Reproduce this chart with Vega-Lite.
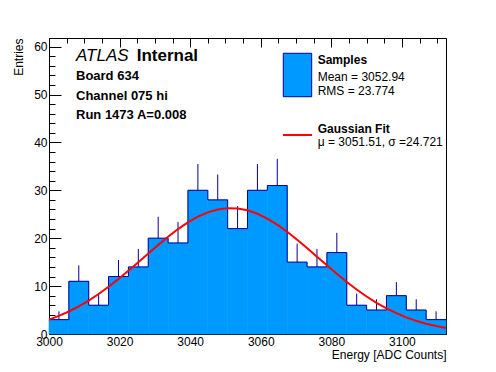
{
  "$schema": "https://vega.github.io/schema/vega-lite/v6.json",
  "width": 397,
  "height": 296,
  "autosize": "none",
  "padding": {"left": 49, "top": 38, "right": 50, "bottom": 38},
  "background": "white",
  "config": {
    "view": {"stroke": "black", "strokeWidth": 1},
    "font": "Liberation Sans",
    "axis": {
      "domainColor": "black", "domainWidth": 1,
      "gridColor": "black", "gridWidth": 1, "gridOpacity": 1, "gridCap": "butt",
      "labelColor": "black", "titleColor": "black", "zindex": 1,
      "labelFont": "Liberation Sans", "titleFont": "Liberation Sans",
      "labelFontSize": 12, "titleFontSize": 12, "titleFontWeight": "normal"
    }
  },
  "resolve": {"axis": {"x": "independent", "y": "independent"}},
  "datasets": {
    "hist": [
      {"x0": 3000, "x1": 3005.625, "xc": 3002.8125, "n": 3, "hi": 4.73},
      {"x0": 3005.625, "x1": 3011.25, "xc": 3008.4375, "n": 11, "hi": 14.32},
      {"x0": 3011.25, "x1": 3016.875, "xc": 3014.0625, "n": 6, "hi": 8.45},
      {"x0": 3016.875, "x1": 3022.5, "xc": 3019.6875, "n": 12, "hi": 15.46},
      {"x0": 3022.5, "x1": 3028.125, "xc": 3025.3125, "n": 14, "hi": 17.74},
      {"x0": 3028.125, "x1": 3033.75, "xc": 3030.9375, "n": 20, "hi": 24.47},
      {"x0": 3033.75, "x1": 3039.375, "xc": 3036.5625, "n": 19, "hi": 23.36},
      {"x0": 3039.375, "x1": 3045, "xc": 3042.1875, "n": 30, "hi": 35.48},
      {"x0": 3045, "x1": 3050.625, "xc": 3047.8125, "n": 28, "hi": 33.29},
      {"x0": 3050.625, "x1": 3056.25, "xc": 3053.4375, "n": 22, "hi": 26.69},
      {"x0": 3056.25, "x1": 3061.875, "xc": 3059.0625, "n": 30, "hi": 35.48},
      {"x0": 3061.875, "x1": 3067.5, "xc": 3064.6875, "n": 31, "hi": 36.57},
      {"x0": 3067.5, "x1": 3073.125, "xc": 3070.3125, "n": 15, "hi": 18.87},
      {"x0": 3073.125, "x1": 3078.75, "xc": 3075.9375, "n": 14, "hi": 17.74},
      {"x0": 3078.75, "x1": 3084.375, "xc": 3081.5625, "n": 17, "hi": 21.12},
      {"x0": 3084.375, "x1": 3090, "xc": 3087.1875, "n": 6, "hi": 8.45},
      {"x0": 3090, "x1": 3095.625, "xc": 3092.8125, "n": 5, "hi": 7.24},
      {"x0": 3095.625, "x1": 3101.25, "xc": 3098.4375, "n": 8, "hi": 10.83},
      {"x0": 3101.25, "x1": 3106.875, "xc": 3104.0625, "n": 5, "hi": 7.24},
      {"x0": 3106.875, "x1": 3112.5, "xc": 3109.6875, "n": 3, "hi": 4.73}
    ],
    "outline": [
      {"x": 3000, "n": 3}, {"x": 3005.625, "n": 11}, {"x": 3011.25, "n": 6}, {"x": 3016.875, "n": 12},
      {"x": 3022.5, "n": 14}, {"x": 3028.125, "n": 20}, {"x": 3033.75, "n": 19}, {"x": 3039.375, "n": 30},
      {"x": 3045, "n": 28}, {"x": 3050.625, "n": 22}, {"x": 3056.25, "n": 30}, {"x": 3061.875, "n": 31},
      {"x": 3067.5, "n": 15}, {"x": 3073.125, "n": 14}, {"x": 3078.75, "n": 17}, {"x": 3084.375, "n": 6},
      {"x": 3090, "n": 5}, {"x": 3095.625, "n": 8}, {"x": 3101.25, "n": 5}, {"x": 3106.875, "n": 3},
      {"x": 3112.5, "n": 3}
    ],
    "fit": [
      {"x": 3000, "f": 3.00}, {"x": 3002.8125, "f": 3.78}, {"x": 3005.625, "f": 4.70}, {"x": 3008.4375, "f": 5.76},
      {"x": 3011.25, "f": 6.98}, {"x": 3014.0625, "f": 8.35}, {"x": 3016.875, "f": 9.86}, {"x": 3019.6875, "f": 11.49},
      {"x": 3022.5, "f": 13.21}, {"x": 3025.3125, "f": 15.00}, {"x": 3028.125, "f": 16.81}, {"x": 3030.9375, "f": 18.60},
      {"x": 3033.75, "f": 20.32}, {"x": 3036.5625, "f": 21.91}, {"x": 3039.375, "f": 23.31}, {"x": 3042.1875, "f": 24.49},
      {"x": 3045, "f": 25.40}, {"x": 3047.8125, "f": 26.01}, {"x": 3050.625, "f": 26.28}, {"x": 3053.4375, "f": 26.22},
      {"x": 3056.25, "f": 25.82}, {"x": 3059.0625, "f": 25.10}, {"x": 3061.875, "f": 24.09}, {"x": 3064.6875, "f": 22.82},
      {"x": 3067.5, "f": 21.34}, {"x": 3070.3125, "f": 19.69}, {"x": 3073.125, "f": 17.95}, {"x": 3075.9375, "f": 16.14},
      {"x": 3078.75, "f": 14.33}, {"x": 3081.5625, "f": 12.56}, {"x": 3084.375, "f": 10.87}, {"x": 3087.1875, "f": 9.28},
      {"x": 3090, "f": 7.83}, {"x": 3092.8125, "f": 6.51}, {"x": 3095.625, "f": 5.35}, {"x": 3098.4375, "f": 4.34},
      {"x": 3101.25, "f": 3.47}, {"x": 3104.0625, "f": 2.75}, {"x": 3106.875, "f": 2.14}, {"x": 3109.6875, "f": 1.65},
      {"x": 3112.5, "f": 1.25}
    ]
  },
  "layer": [
    {
      "data": {"name": "hist"},
      "mark": {"type": "rect", "fill": "#0099ff", "stroke": "#0099ff", "strokeWidth": 0.6},
      "encoding": {
        "x": {
          "field": "x0", "type": "quantitative",
          "scale": {"domain": [3000, 3112.5], "nice": false, "zero": false},
          "axis": {
            "orient": "bottom",
            "title": "Energy [ADC Counts]",
            "values": [3000, 3020, 3040, 3060, 3080, 3100],
            "format": "d",
            "ticks": false,
            "grid": true, "gridDash": [9, 1000],
            "labelPadding": 2,
            "labelFlush": false, "labelOverlap": false, "labelBound": false,
            "titleAnchor": "end", "titlePadding": 2
          }
        },
        "x2": {"field": "x1"},
        "y": {
          "field": "n", "type": "quantitative",
          "scale": {"domain": [0, 61.8], "nice": false, "zero": true},
          "axis": {
            "orient": "left",
            "title": "Entries",
            "values": [0, 10, 20, 30, 40, 50, 60],
            "ticks": false,
            "grid": true, "gridDash": [12, 1000],
            "labelPadding": 2,
            "labelFlush": false, "labelOverlap": false, "labelBound": false,
            "titleAnchor": "end", "titlePadding": 8
          }
        },
        "y2": {"datum": 0}
      }
    },
    {
      "data": {"name": "hist"},
      "mark": {"type": "rule", "color": "#000099", "strokeWidth": 1},
      "encoding": {
        "x": {
          "field": "xc", "type": "quantitative",
          "axis": {
            "orient": "bottom", "title": null, "labels": false, "domain": false, "ticks": false,
            "values": [3005, 3010, 3015, 3025, 3030, 3035, 3045, 3050, 3055, 3065, 3070, 3075, 3085, 3090, 3095, 3105, 3110],
            "grid": true, "gridDash": [5, 1000]
          }
        },
        "y": {
          "field": "n", "type": "quantitative",
          "axis": {
            "orient": "left", "title": null, "labels": false, "domain": false, "ticks": false,
            "values": [2, 4, 6, 8, 12, 14, 16, 18, 22, 24, 26, 28, 32, 34, 36, 38, 42, 44, 46, 48, 52, 54, 56, 58],
            "grid": true, "gridDash": [6, 1000]
          }
        },
        "y2": {"field": "hi"}
      }
    },
    {
      "data": {"name": "outline"},
      "mark": {"type": "line", "interpolate": "step-after", "color": "#000099", "strokeWidth": 1},
      "encoding": {
        "x": {"field": "x", "type": "quantitative", "axis": null},
        "y": {"field": "n", "type": "quantitative", "axis": null}
      }
    },
    {
      "data": {"name": "fit"},
      "mark": {"type": "line", "color": "#ff0000", "strokeWidth": 2},
      "encoding": {
        "x": {"field": "x", "type": "quantitative", "axis": null},
        "y": {"field": "f", "type": "quantitative", "axis": null}
      }
    },
    {
      "data": {"values": [{"x0": 3066.39, "x1": 3074.44, "y0": 49.54, "y1": 58.61}]},
      "mark": {"type": "rect", "fill": "#0099ff", "stroke": "#000099", "strokeWidth": 1},
      "encoding": {
        "x": {"field": "x0", "type": "quantitative", "axis": null},
        "x2": {"field": "x1"},
        "y": {"field": "y0", "type": "quantitative", "axis": null},
        "y2": {"field": "y1"}
      }
    },
    {
      "data": {"values": [{"x0": 3066.31, "x1": 3074.53, "y": 41.55}]},
      "mark": {"type": "rule", "color": "#ff0000", "strokeWidth": 2},
      "encoding": {
        "x": {"field": "x0", "type": "quantitative", "axis": null},
        "x2": {"field": "x1"},
        "y": {"field": "y", "type": "quantitative", "axis": null}
      }
    },
    {
      "data": {"values": [{"x": 3007.65, "y": 56.9, "t": "ATLAS"}]},
      "mark": {"type": "text", "align": "left", "baseline": "alphabetic", "font": "Liberation Sans", "fontSize": 17, "fontStyle": "italic", "color": "black"},
      "encoding": {
        "x": {"field": "x", "type": "quantitative", "axis": null},
        "y": {"field": "y", "type": "quantitative", "axis": null},
        "text": {"field": "t"}
      }
    },
    {
      "data": {"values": [{"x": 3024.85, "y": 56.9, "t": "Internal"}]},
      "mark": {"type": "text", "align": "left", "baseline": "alphabetic", "font": "Liberation Sans", "fontSize": 17, "fontWeight": "bold", "color": "black"},
      "encoding": {
        "x": {"field": "x", "type": "quantitative", "axis": null},
        "y": {"field": "y", "type": "quantitative", "axis": null},
        "text": {"field": "t"}
      }
    },
    {
      "data": {"values": [
        {"x": 3007.65, "y": 53.03, "t": "Board 634"},
        {"x": 3007.65, "y": 48.86, "t": "Channel 075 hi"},
        {"x": 3007.65, "y": 44.99, "t": "Run 1473 A=0.008"}
      ]},
      "mark": {"type": "text", "align": "left", "baseline": "alphabetic", "font": "Liberation Sans", "fontSize": 13, "fontWeight": "bold", "color": "black"},
      "encoding": {
        "x": {"field": "x", "type": "quantitative", "axis": null},
        "y": {"field": "y", "type": "quantitative", "axis": null},
        "text": {"field": "t"}
      }
    },
    {
      "data": {"values": [
        {"x": 3076.14, "y": 56.27, "t": "Samples"},
        {"x": 3076.14, "y": 41.9, "t": "Gaussian Fit"}
      ]},
      "mark": {"type": "text", "align": "left", "baseline": "alphabetic", "font": "Liberation Sans", "fontSize": 12, "fontWeight": "bold", "color": "black"},
      "encoding": {
        "x": {"field": "x", "type": "quantitative", "axis": null},
        "y": {"field": "y", "type": "quantitative", "axis": null},
        "text": {"field": "t"}
      }
    },
    {
      "data": {"values": [
        {"x": 3076.14, "y": 52.82, "t": "Mean = 3052.94"},
        {"x": 3076.14, "y": 50.0, "t": "RMS = 23.774"},
        {"x": 3076.14, "y": 39.35, "t": "μ = 3051.51, σ =24.721"}
      ]},
      "mark": {"type": "text", "align": "left", "baseline": "alphabetic", "font": "Liberation Sans", "fontSize": 12, "color": "black"},
      "encoding": {
        "x": {"field": "x", "type": "quantitative", "axis": null},
        "y": {"field": "y", "type": "quantitative", "axis": null},
        "text": {"field": "t"}
      }
    }
  ]
}
